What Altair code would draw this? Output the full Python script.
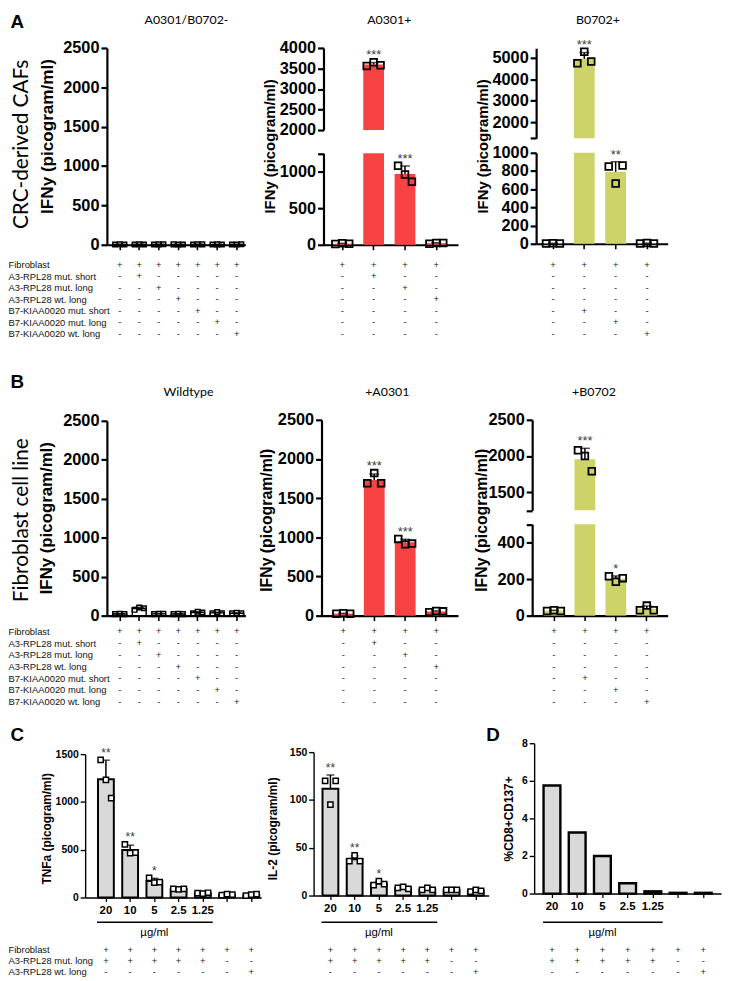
import json
import altair as alt
import numpy as np
import pandas as pd

M = 8             # page margin of the html page
W, H = 728, 973   # drawing area


def X(v):
    return v - M


def Y(v):
    return v - M


SANS = "Liberation Sans"
LATO = "Lato"
RED = "#F94343"
OLIVE = "#CDD368"
GREY = "#D9D9D9"
STAR = "#3A3A3A"

# ---------------- categories ----------------
rows_A = ["Fibroblast", "A3-RPL28 mut. short", "A3-RPL28 mut. long", "A3-RPL28 wt. long",
          "B7-KIAA0020 mut. short", "B7-KIAA0020 mut. long", "B7-KIAA0020 wt. long"]
rows_C = ["Fibroblast", "A3-RPL28 mut. long", "A3-RPL28 wt. long"]
cond7 = ["Fibroblast", "A3 mut. short", "A3 mut. long", "A3 wt. long",
         "B7 mut. short", "B7 mut. long", "B7 wt. long"]
cond_A3 = ["Fibroblast", "A3 mut. short", "A3 mut. long", "A3 wt. long"]
cond_B7 = ["Fibroblast", "B7 mut. short", "B7 mut. long", "B7 wt. long"]
doses = ["20", "10", "5", "2.5", "1.25", "no peptide", "wt. long"]
dose_hidden = ["no peptide", "wt. long"]

# ---------------- values (three replicates) ----------------
a1_reps = [[3, 6, 4], [4, 7, 3], [3, 5, 6], [5, 4, 3], [4, 6, 5], [3, 5, 4], [4, 3, 6]]
a2_reps = [[10, 20, 15], [3560, 3650, 3580], [1080, 960, 860], [15, 25, 25]]
a3_reps = [[4, 6, 4], [4750, 5290, 4830], [850, 663, 860], [3, 8, 3]]
b1_reps = [[20, 25, 20], [75, 105, 95], [20, 25, 25], [20, 25, 20], [30, 50, 40], [30, 45, 30], [30, 35, 30]]
b2_reps = [[25, 30, 25], [1690, 1820, 1690], [980, 910, 920], [45, 60, 55]]
b3_reps = [[25, 30, 25], [2080, 2000, 1790], [215, 185, 205], [30, 55, 30]]
tnf_reps = [[1440, 1230, 1040], [555, 465, 470], [205, 155, 160], [90, 85, 90], [45, 40, 50], [25, 35, 30], [20, 30, 35]]
il2_reps = [[120, 95, 120], [36, 42, 36], [11, 15, 12], [8, 9, 7], [6, 8, 6], [6, 6, 6], [4, 6, 5]]
cd137_vals = [5.75, 3.25, 2.0, 0.55, 0.12, 0.04, 0.04]

a1_stars = ["", "", "", "", "", "", ""]
a2_stars = ["", "***", "***", ""]
a3_stars = ["", "***", "**", ""]
b1_stars = ["", "", "", "", "", "", ""]
b2_stars = ["", "***", "***", ""]
b3_stars = ["", "***", "*", ""]
c_stars = ["**", "**", "*", "", "", "", ""]

# condition tables (rows x columns)
t_a7 = ["+++++++", "-+-----", "--+----", "---+---", "----+--", "-----+-", "------+"]
t_a3 = ["++++", "-+--", "--+-", "---+", "----", "----", "----"]
t_b7 = ["++++", "----", "----", "----", "-+--", "--+-", "---+"]
t_c = ["+++++++", "+++++--", "------+"]


# ---------------- helpers ----------------
def band(conds, L, R, c0, step, bw):
    n = len(conds)
    p = 1 - bw / step
    o = max(((R - L) / step - n + p) / 2, 0.0)
    st = (R - L) / (n - p + 2 * o)
    slack = (R - L) - st * (n - p)
    al = (c0 - bw / 2 - L) / slack if slack > 0 else 0.5
    al = min(max(al, 0.0), 1.0)
    return alt.Scale(type="band", domain=conds, range=[X(L), X(R)],
                     paddingInner=p, paddingOuter=o, align=al)


def lin(d0, r0, d1, r1):
    return alt.Scale(domain=[d0, d1], range=[Y(r0), Y(r1)], nice=False, zero=False, clamp=True)


def y_axis(L, values, hide=None, title=None, tx=0, ty=0, small=False, tsize=18):
    kw = dict(orient="left", offset=-X(L), values=values, format="d", grid=False,
              domainColor="black", domainWidth=1.4 if small else 2.2,
              tickColor="black", tickWidth=1.4 if small else 2.2, tickSize=5 if small else 6,
              labelFont=SANS, labelFontWeight="bold", labelFontSize=10.5 if small else 16.5,
              labelColor="black", labelPadding=2)
    if hide is not None:
        kw["labelExpr"] = "datum.value == %s ? '' : datum.label" % hide
    if title:
        kw.update(title=title, titleX=tx - L, titleY=Y(ty), titleFont=SANS,
                  titleFontWeight="bold", titleFontSize=12 if small else tsize,
                  titleColor="black", titleAngle=270, titleAlign="center", titleBaseline="middle")
    else:
        kw["title"] = None
    return alt.Axis(**kw)


def x_axis(y0, small=False, labels=False, letter=None, lx=0, ly=0):
    kw = dict(orient="bottom", offset=Y(y0) - H, grid=False, domainColor="black",
              domainWidth=1.4 if small else 2.2, tickColor="black",
              tickWidth=1.3 if small else 1.6, tickSize=4 if small else 5, labels=labels)
    if labels:
        kw.update(labelFont=SANS, labelFontWeight="bold", labelFontSize=11.5, labelColor="black",
                  labelPadding=3, labelAngle=0, labelOverlap=False,
                  labelExpr="indexof(%s, datum.value) >= 0 ? '' : datum.label" % json.dumps(dose_hidden))
    if letter:
        kw.update(title=letter, titleX=X(lx), titleY=Y(ly) - Y(y0), titleFont=SANS,
                  titleFontSize=19, titleFontWeight="bold", titleColor="black",
                  titleAlign="center", titleBaseline="middle", titleAngle=0)
    else:
        kw["title"] = None
    return alt.Axis(**kw)


def panel(conds, reps, stars, xs, ys, lo, hi, xax, yax, bar_kw, pt_kw, cap=10, star_size=13):
    """Returns a flat list of single-mark charts sharing identical scale settings."""
    means = [float(np.mean(v)) for v in reps]
    sds = [float(np.std(v, ddof=1)) for v in reps]
    inside = [lo <= m <= hi for m in means]
    bars_df = pd.DataFrame({"cond": conds, "mean": means})
    err_df = pd.DataFrame({
        "cond": [c for c, k in zip(conds, inside) if k],
        "mean": [m for m, k in zip(means, inside) if k],
        "top": [m + s for m, s, k in zip(means, sds, inside) if k]})
    pts_df = pd.DataFrame([{"cond": c, "rep": "r%d" % (i + 1), "value": v}
                           for c, vals in zip(conds, reps) for i, v in enumerate(vals) if lo <= v <= hi])
    star_df = pd.DataFrame([{"cond": c, "star": s, "anchor": max(max(vals), m + sd)}
                            for c, s, vals, m, sd, k in zip(conds, stars, reps, means, sds, inside)
                            if s and k])
    out = [alt.Chart(bars_df).mark_bar(**bar_kw).encode(
        x=alt.X("cond:N", scale=xs, axis=xax),
        y=alt.Y("mean:Q", scale=ys, axis=yax))]
    if len(err_df):
        out.append(alt.Chart(err_df).mark_rule(color="black", strokeWidth=1.5).encode(
            x=alt.X("cond:N", scale=xs, axis=None),
            y=alt.Y("mean:Q", scale=ys, axis=None), y2="top:Q"))
        out.append(alt.Chart(err_df).mark_tick(color="black", thickness=1.5, size=cap,
                                               orient="horizontal").encode(
            x=alt.X("cond:N", scale=xs, axis=None),
            y=alt.Y("top:Q", scale=ys, axis=None)))
    if len(pts_df) and pt_kw is not None:
        out.append(alt.Chart(pts_df).mark_point(**pt_kw).encode(
            x=alt.X("cond:N", scale=xs, axis=None),
            xOffset=alt.XOffset("rep:N", scale=alt.Scale(domain=["r1", "r2", "r3"])),
            y=alt.Y("value:Q", scale=ys, axis=None)))
    if len(star_df):
        out.append(alt.Chart(star_df).mark_text(font=SANS, fontSize=star_size, color=STAR,
                                                baseline="alphabetic", dy=-3).encode(
            x=alt.X("cond:N", scale=xs, axis=None),
            y=alt.Y("anchor:Q", scale=ys, axis=None), text="star:N"))
    return out


def table(conds, rows, signs, xs, top, bottom, xax=None, yax=None):
    recs = [{"cond": c, "row": r, "sign": s[j]} for r, s in zip(rows, signs) for j, c in enumerate(conds)]
    ys = alt.Scale(type="point", domain=rows, range=[Y(top), Y(bottom)], padding=0)
    return [alt.Chart(pd.DataFrame(recs)).mark_text(font=SANS, fontSize=9.5, color="#222",
                                                    baseline="middle").encode(
        x=alt.X("cond:N", scale=xs, axis=xax),
        y=alt.Y("row:N", scale=ys, axis=yax),
        text="sign:N")]


def row_axis(title=None, tx=0, ty=0):
    kw = dict(orient="left", offset=0, domain=False, ticks=False, tickSize=0, labelPadding=0,
              labelAlign="left", labelBaseline="middle", labelFont=SANS, labelFontSize=9.5,
              labelColor="#111", labelLimit=0, grid=False)
    if title:
        kw.update(title=title, titleX=X(tx), titleY=Y(ty), titleFont=LATO, titleFontSize=21,
                  titleFontWeight="normal", titleColor="black", titleAngle=270,
                  titleAlign="center", titleBaseline="middle")
    else:
        kw["title"] = None
    return alt.Axis(**kw)


def top_title(title, tx, ty):
    return alt.Axis(orient="top", offset=0, domain=False, ticks=False, labels=False, grid=False,
                    title=title, titleX=X(tx), titleY=Y(ty), titleFont=LATO, titleFontSize=12.5,
                    titleFontWeight="normal", titleColor="black", titleAlign="center",
                    titleBaseline="middle", titleAngle=0)


def dose_marks(xs, line_y, unit_y):
    ys = alt.Scale(type="point", domain=["line", "unit"], range=[Y(line_y), Y(unit_y)], padding=0)
    line = alt.Chart(pd.DataFrame({"start": [doses[0]], "end": [doses[4]], "row": ["line"]})).mark_rule(
        color="black", strokeWidth=1.6, xOffset=-9, x2Offset=10).encode(
        x=alt.X("start:N", scale=xs, axis=None), x2="end:N",
        y=alt.Y("row:N", scale=ys, axis=None))
    unit = alt.Chart(pd.DataFrame({"cond": [doses[2]], "row": ["unit"], "label": ["µg/ml"]})).mark_text(
        font=SANS, fontSize=11.5, color="black", baseline="middle").encode(
        x=alt.X("cond:N", scale=xs, axis=None),
        y=alt.Y("row:N", scale=ys, axis=None), text="label:N")
    return [line, unit]


BIG_BAR_W = dict(fill="white", stroke="black", strokeWidth=1.4)
PT_OPEN = dict(shape="square", filled=False, color="black", strokeWidth=1.8, size=46, opacity=1)
PT_SMALL = dict(shape="square", filled=False, color="black", strokeWidth=1.5, size=22, opacity=1)
PT_WHITE = dict(shape="square", filled=True, fill="white", stroke="black", strokeWidth=1.5, size=28, opacity=1)

layers = []

# ================= A: CRC-derived CAFs =================
xs = band(cond7, 108, 248, 121, 19.7, 14)
layers += panel(cond7, a1_reps, a1_stars, xs, lin(0, 242, 2500, 43), 0, 2500,
                x_axis(242, letter="A", lx=17, ly=16),
                y_axis(108, [0, 500, 1000, 1500, 2000, 2500], title="IFNy (picogram/ml)",
                       tx=48, ty=132, tsize=17.3),
                BIG_BAR_W, PT_SMALL)
layers += table(cond7, rows_A, t_a7, xs, 262, 332,
                xax=top_title("A0301/B0702-", 188, 14),
                yax=row_axis("CRC-derived CAFs", 22, 140))

xs = band(cond_A3, 327, 463, 346, 31.7, 21)
layers += panel(cond_A3, a2_reps, a2_stars, xs, lin(2000, 126, 4000, 43), 2000, 4000,
                None, y_axis(327, [2000, 2500, 3000, 3500, 4000]),
                dict(color=RED), PT_OPEN)
layers += panel(cond_A3, a2_reps, a2_stars, xs, lin(0, 242, 1250, 149.5), 0, 1250,
                x_axis(242), y_axis(327, [0, 500, 1000, 1250], hide=1250,
                                   title="IFNy (picogram/ml)", tx=272, ty=142, tsize=15),
                dict(color=RED), PT_OPEN)
layers += table(cond_A3, rows_A, t_a3, xs, 262, 332, xax=top_title("A0301+", 393, 14))

xs = band(cond_B7, 542, 675, 559, 31.7, 21)
layers += panel(cond_B7, a3_reps, a3_stars, xs, lin(1250, 134.3, 5450, 43.3), 1250, 5450,
                None, y_axis(542, [1250, 2000, 3000, 4000, 5000], hide=1250),
                dict(color=OLIVE), PT_OPEN)
layers += panel(cond_B7, a3_reps, a3_stars, xs, lin(0, 241, 1000, 149), 0, 1000,
                x_axis(241), y_axis(542, [0, 200, 400, 600, 800, 1000],
                                   title="IFNy (picogram/ml)", tx=488, ty=142, tsize=15),
                dict(color=OLIVE), PT_OPEN)
layers += table(cond_B7, rows_A, t_b7, xs, 262, 332, xax=top_title("B0702+", 604, 14))

# ================= B: Fibroblast cell line =================
xs = band(cond7, 108, 248, 121, 19.7, 14)
layers += panel(cond7, b1_reps, b1_stars, xs, lin(0, 617, 2500, 420), 0, 2500,
                x_axis(617, letter="B", lx=17, ly=380),
                y_axis(108, [0, 500, 1000, 1500, 2000, 2500], title="IFNy (picogram/ml)",
                       tx=47, ty=518, tsize=17),
                BIG_BAR_W, PT_SMALL)
layers += table(cond7, rows_A, t_a7, xs, 633, 704,
                xax=top_title("Wildtype", 190, 390),
                yax=row_axis("Fibroblast cell line", 22, 520))

xs = band(cond_A3, 325, 463, 347, 31.3, 21)
layers += panel(cond_A3, b2_reps, b2_stars, xs, lin(0, 617, 2500, 419), 0, 2500,
                x_axis(617), y_axis(325, [0, 500, 1000, 1500, 2000, 2500],
                                   title="IFNy (picogram/ml)", tx=269, ty=520, tsize=16),
                dict(color=RED), PT_OPEN)
layers += table(cond_A3, rows_A, t_a3, xs, 633, 704, xax=top_title("+A0301", 391, 390))

xs = band(cond_B7, 538, 675, 560, 31.3, 21)
layers += panel(cond_B7, b3_reps, b3_stars, xs, lin(1250, 510.5, 2500, 419), 1250, 2500,
                None, y_axis(538, [1250, 1500, 2000, 2500], hide=1250),
                dict(color=OLIVE), PT_OPEN)
layers += panel(cond_B7, b3_reps, b3_stars, xs, lin(0, 617, 500, 524.5), 0, 500,
                x_axis(617), y_axis(538, [0, 200, 400, 500], hide=500,
                                   title="IFNy (picogram/ml)", tx=487, ty=520, tsize=16),
                dict(color=OLIVE), PT_OPEN)
layers += table(cond_B7, rows_A, t_b7, xs, 633, 704, xax=top_title("+B0702", 600, 390))

# ================= C: TNFa / IL-2 =================
GREY_BAR = dict(fill=GREY, stroke="black", strokeWidth=2)

xs = band(doses, 86, 264, 107, 24.5, 16)
layers += panel(doses, tnf_reps, c_stars, xs, lin(0, 902, 1500, 757), 0, 1500,
                x_axis(902, small=True, labels=True, letter="C", lx=17, ly=737),
                y_axis(86, [0, 500, 1000, 1500], title="TNFa (picogram/ml)", tx=47, ty=832, small=True),
                GREY_BAR, PT_WHITE, cap=8, star_size=12)
layers += dose_marks(xs, 927, 938)
layers += table(doses, rows_C, t_c, xs, 955, 977, yax=row_axis())

xs = band(doses, 317, 494, 334, 24.5, 16)
layers += panel(doses, il2_reps, c_stars, xs, lin(0, 900, 150, 755), 0, 150,
                x_axis(900, small=True, labels=True),
                y_axis(317, [0, 50, 100, 150], title="IL-2 (picogram/ml)", tx=275, ty=832, small=True),
                GREY_BAR, PT_WHITE, cap=8, star_size=12)
layers += dose_marks(xs, 927, 938)
layers += table(doses, rows_C, t_c, xs, 955, 977)

# ================= D: %CD8+CD137+ =================
xs = band(doses, 540, 729, 558, 25.5, 17)
d_df = pd.DataFrame({"cond": doses, "value": cd137_vals})
layers.append(alt.Chart(d_df).mark_bar(fill=GREY, stroke="black", strokeWidth=2.4).encode(
    x=alt.X("cond:N", scale=xs, axis=x_axis(898, small=True, labels=True, letter="D", lx=498, ly=737)),
    y=alt.Y("value:Q", scale=lin(0, 898, 8, 746),
            axis=y_axis(540, [0, 2, 4, 6, 8], title="%CD8+CD137+", tx=514, ty=822, small=True))))
layers += dose_marks(xs, 927, 938)
layers += table(doses, rows_C, t_c, xs, 955, 977)

chart = alt.layer(*layers).resolve_scale(
    x="independent", y="independent", xOffset="independent"
).resolve_axis(x="independent", y="independent").properties(
    width=W, height=H, padding=0, autosize="none"
).configure_view(stroke=None).configure_axis(grid=False)

chart.save("out.html", embed_options={"renderer": "svg", "actions": False})
